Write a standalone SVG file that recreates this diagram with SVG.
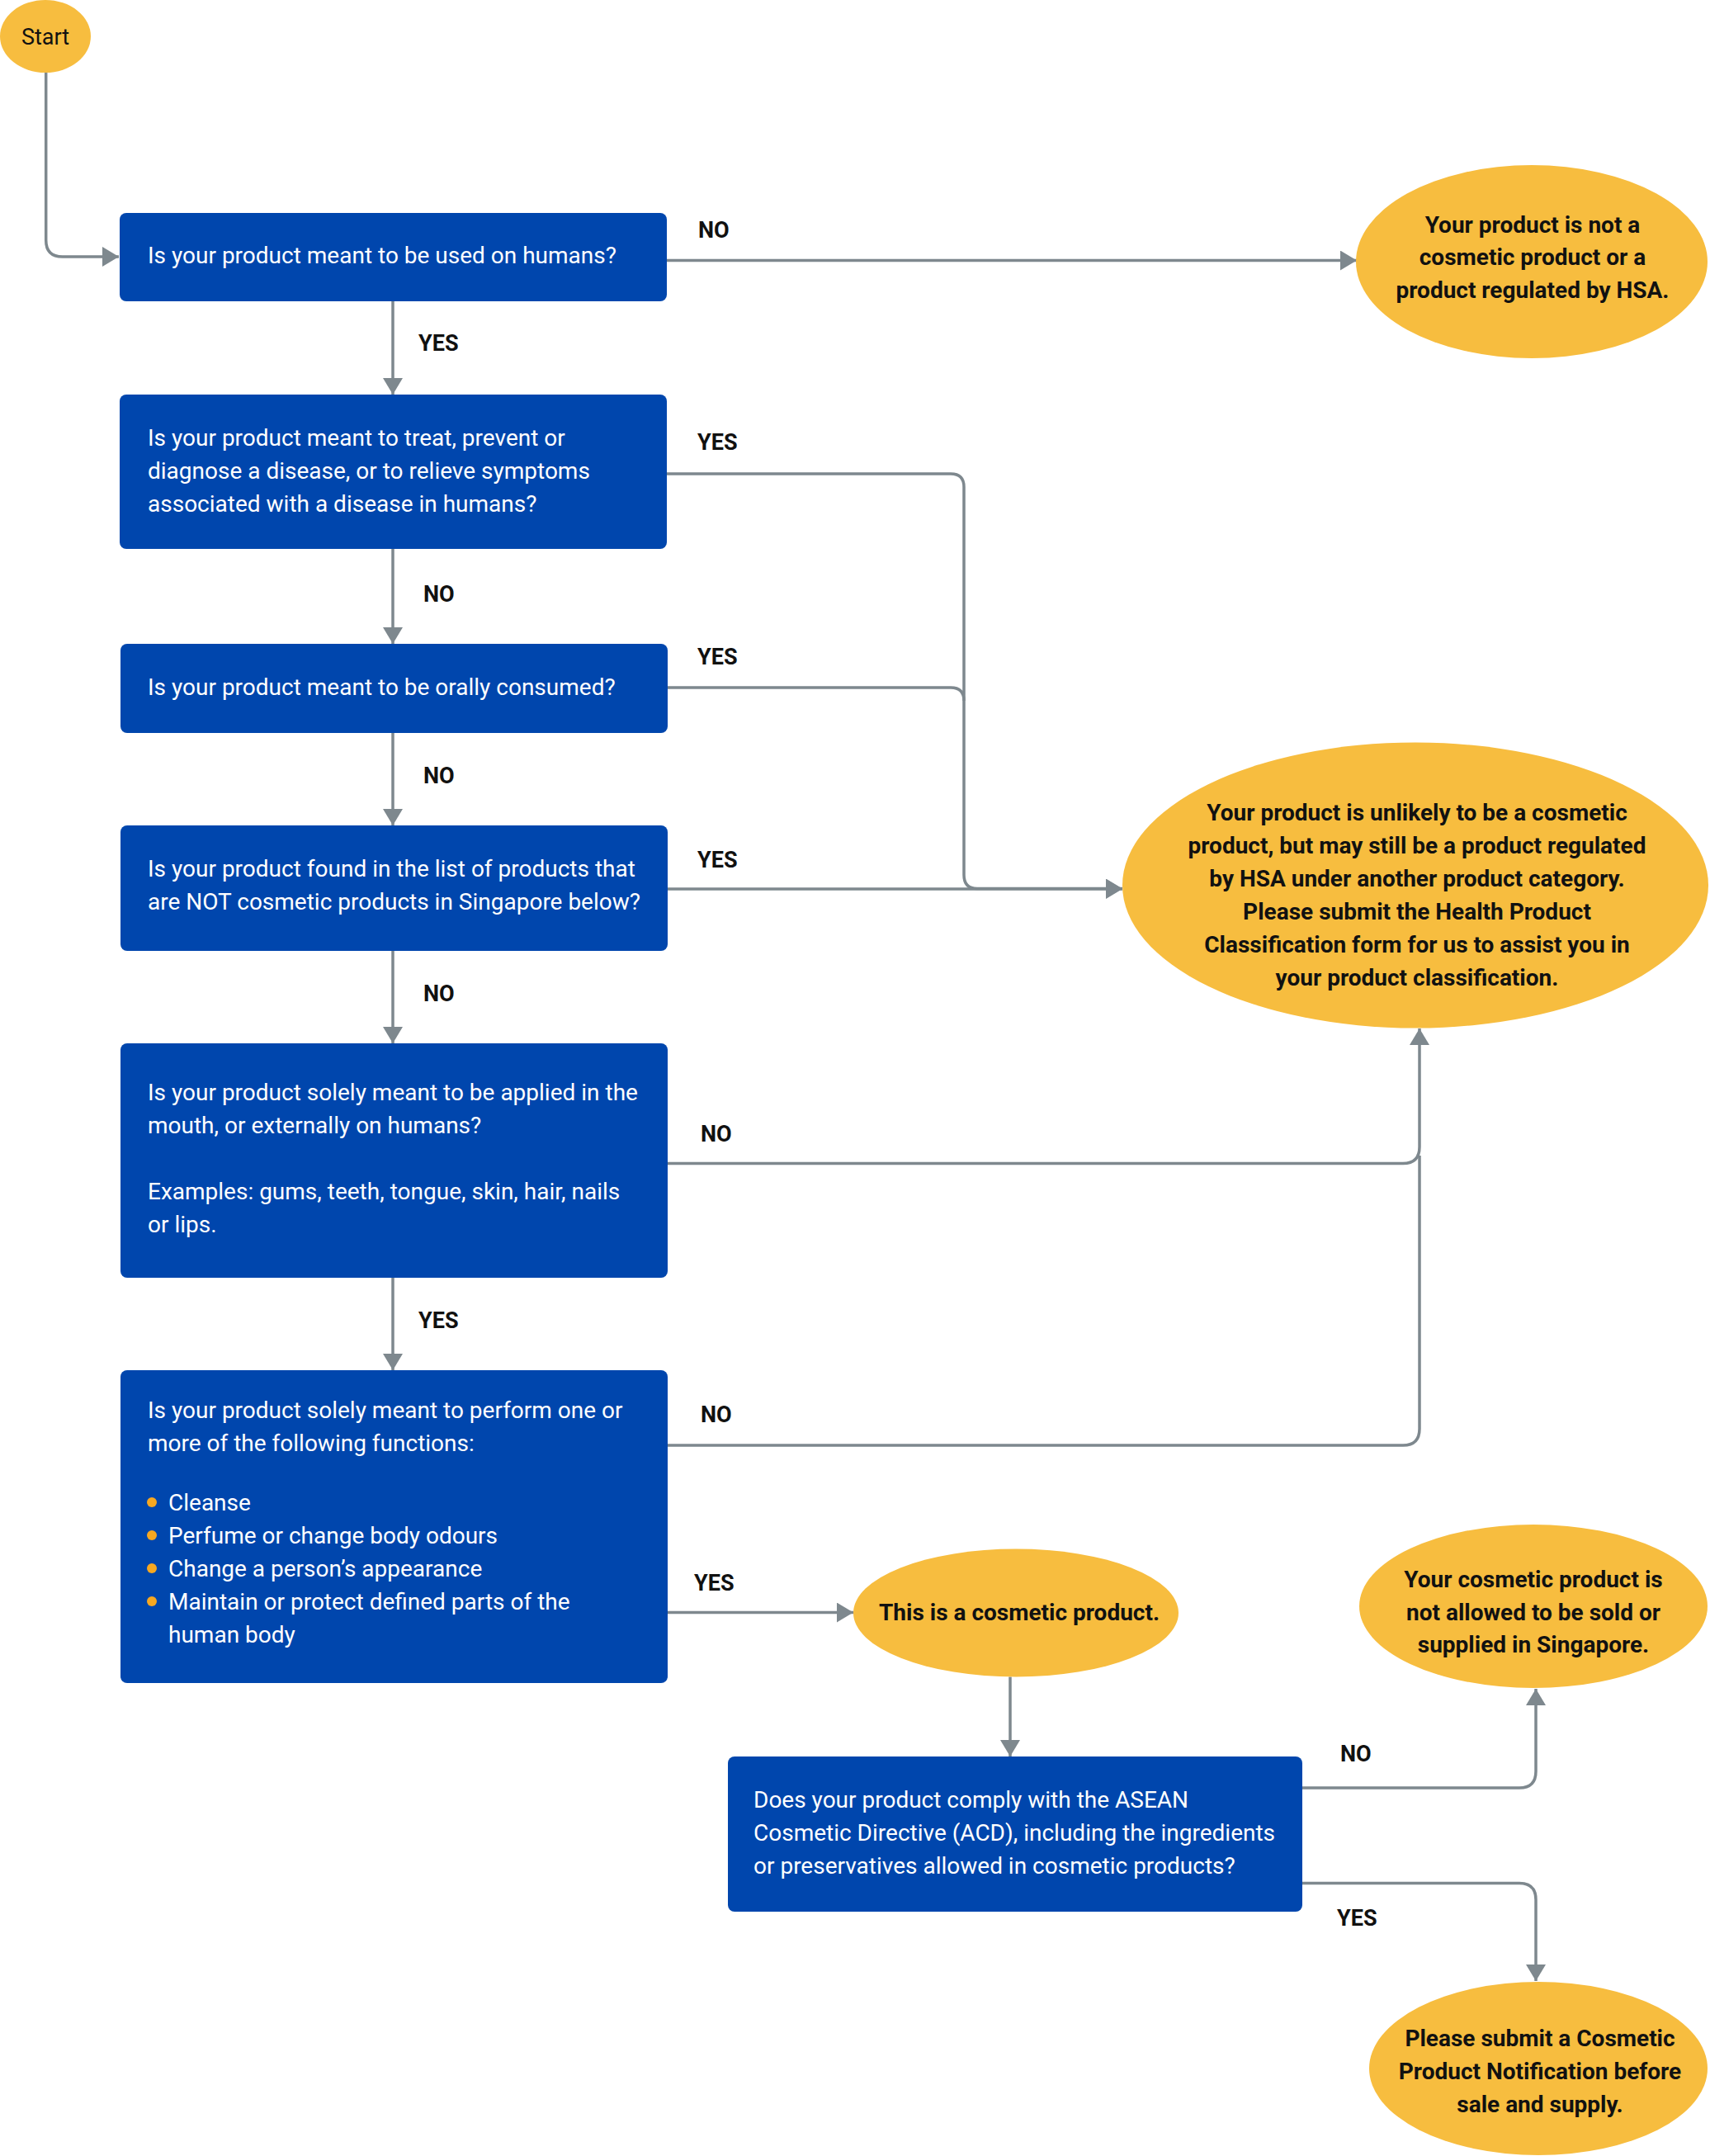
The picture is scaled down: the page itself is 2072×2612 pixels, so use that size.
<svg xmlns="http://www.w3.org/2000/svg" width="2072" height="2612" viewBox="0 0 2072 2612">
<defs>
<style>
.box{fill:#0046ad;}
.term{fill:#f7bd3f;}
.bt{font-family:Roboto,"Liberation Sans",sans-serif;font-size:28px;fill:#ffffff;}
.et{font-family:Roboto,"Liberation Sans",sans-serif;font-size:28px;font-weight:bold;fill:#111111;text-anchor:middle;}
.st{font-family:Roboto,"Liberation Sans",sans-serif;font-size:27px;fill:#111111;text-anchor:middle;}
.lb{font-family:Roboto,"Liberation Sans",sans-serif;font-size:27px;font-weight:bold;fill:#111111;}
.c{fill:none;stroke:#7e888e;stroke-width:3.5;}
.bul{fill:#f6a821;}
</style>
<marker id="ah" viewBox="0 0 20 24" refX="20" refY="12" markerWidth="20" markerHeight="24" markerUnits="userSpaceOnUse" orient="auto">
<path d="M0,0 L20,12 L0,24 Z" fill="#7e888e"/>
</marker>
</defs>
<rect width="2072" height="2612" fill="#ffffff"/>

<g id="connectors">
<path class="c" d="M55.7,87 V291 Q55.7,311 75.7,311 H144" marker-end="url(#ah)"/>
<path class="c" d="M808,315.5 H1644" marker-end="url(#ah)"/>
<path class="c" d="M476,365 V478" marker-end="url(#ah)"/>
<path class="c" d="M808,574 H1152 Q1168,574 1168,590 V1060 Q1168,1076.5 1184,1076.5 H1360" marker-end="url(#ah)"/>
<path class="c" d="M809,833 H1152 Q1168,833 1168,849"/>
<path class="c" d="M809,1077 H1360" marker-end="url(#ah)"/>
<path class="c" d="M476,665 V780" marker-end="url(#ah)"/>
<path class="c" d="M476,888 V1000" marker-end="url(#ah)"/>
<path class="c" d="M476,1152 V1264" marker-end="url(#ah)"/>
<path class="c" d="M476,1548 V1660" marker-end="url(#ah)"/>
<path class="c" d="M809,1409.5 H1700 Q1720,1409.5 1720,1389.5 V1246" marker-end="url(#ah)"/>
<path class="c" d="M809,1751 H1700 Q1720,1751 1720,1731 V1400"/>
<path class="c" d="M809,1953.5 H1034" marker-end="url(#ah)"/>
<path class="c" d="M1224,2031.5 V2128" marker-end="url(#ah)"/>
<path class="c" d="M1578,2166 H1841 Q1861,2166 1861,2146 V2046" marker-end="url(#ah)"/>
<path class="c" d="M1578,2281.5 H1841 Q1861,2281.5 1861,2301.5 V2400" marker-end="url(#ah)"/>
<text class="lb" x="846" y="288">NO</text>
<text class="lb" x="507" y="425">YES</text>
<text class="lb" x="845" y="544.5">YES</text>
<text class="lb" x="513" y="729">NO</text>
<text class="lb" x="845" y="805">YES</text>
<text class="lb" x="513" y="949">NO</text>
<text class="lb" x="845" y="1051">YES</text>
<text class="lb" x="513" y="1213">NO</text>
<text class="lb" x="849" y="1382.5">NO</text>
<text class="lb" x="507" y="1609">YES</text>
<text class="lb" x="849" y="1722.5">NO</text>
<text class="lb" x="841" y="1926.5">YES</text>
<text class="lb" x="1624" y="2134">NO</text>
<text class="lb" x="1620" y="2333">YES</text>
</g>

<g id="start">
<ellipse class="term" cx="55" cy="44" rx="55" ry="44"/>
<text class="st" x="55" y="54">Start</text>
</g>

<g id="q1">
<rect class="box" x="145" y="258" width="663" height="107" rx="8"/>
<text class="bt" x="179" y="319">Is your product meant to be used on humans?</text>
</g>

<g id="q2">
<rect class="box" x="145" y="478" width="663" height="187" rx="8"/>
<text class="bt" x="179" y="540">Is your product meant to treat, prevent or</text>
<text class="bt" x="179" y="580">diagnose a disease, or to relieve symptoms</text>
<text class="bt" x="179" y="620">associated with a disease in humans?</text>
</g>

<g id="q3">
<rect class="box" x="146" y="780" width="663" height="108" rx="8"/>
<text class="bt" x="179" y="842">Is your product meant to be orally consumed?</text>
</g>

<g id="q4">
<rect class="box" x="146" y="1000" width="663" height="152" rx="8"/>
<text class="bt" x="179" y="1062">Is your product found in the list of products that</text>
<text class="bt" x="179" y="1102">are NOT cosmetic products in Singapore below?</text>
</g>

<g id="q5">
<rect class="box" x="146" y="1264" width="663" height="284" rx="8"/>
<text class="bt" x="179" y="1333">Is your product solely meant to be applied in the</text>
<text class="bt" x="179" y="1373">mouth, or externally on humans?</text>
<text class="bt" x="179" y="1453">Examples: gums, teeth, tongue, skin, hair, nails</text>
<text class="bt" x="179" y="1493">or lips.</text>
</g>

<g id="q6">
<rect class="box" x="146" y="1660" width="663" height="379" rx="8"/>
<text class="bt" x="179" y="1718">Is your product solely meant to perform one or</text>
<text class="bt" x="179" y="1758">more of the following functions:</text>
<circle class="bul" cx="184" cy="1820" r="6"/>
<circle class="bul" cx="184" cy="1860" r="6"/>
<circle class="bul" cx="184" cy="1900" r="6"/>
<circle class="bul" cx="184" cy="1940" r="6"/>
<text class="bt" x="204" y="1830">Cleanse</text>
<text class="bt" x="204" y="1870">Perfume or change body odours</text>
<text class="bt" x="204" y="1910">Change a person’s appearance</text>
<text class="bt" x="204" y="1950">Maintain or protect defined parts of the</text>
<text class="bt" x="204" y="1990">human body</text>
</g>

<g id="q7">
<rect class="box" x="882" y="2128" width="696" height="188" rx="8"/>
<text class="bt" x="913" y="2190">Does your product comply with the ASEAN</text>
<text class="bt" x="913" y="2230">Cosmetic Directive (ACD), including the ingredients</text>
<text class="bt" x="913" y="2270">or preservatives allowed in cosmetic products?</text>
</g>

<g id="e1">
<ellipse class="term" cx="1856" cy="317" rx="213" ry="117"/>
<text class="et" x="1857" y="282">Your product is not a</text>
<text class="et" x="1857" y="321">cosmetic product or a</text>
<text class="et" x="1857" y="361">product regulated by HSA.</text>
</g>

<g id="e2">
<ellipse class="term" cx="1715" cy="1072.5" rx="355" ry="173"/>
<text class="et" x="1717" y="993.5">Your product is unlikely to be a cosmetic</text>
<text class="et" x="1717" y="1033.5">product, but may still be a product regulated</text>
<text class="et" x="1717" y="1073.5">by HSA under another product category.</text>
<text class="et" x="1717" y="1113.5">Please submit the Health Product</text>
<text class="et" x="1717" y="1153.5">Classification form for us to assist you in</text>
<text class="et" x="1717" y="1193.5">your product classification.</text>
</g>

<g id="e3">
<ellipse class="term" cx="1231" cy="1954" rx="197" ry="77.5"/>
<text class="et" x="1235" y="1963">This is a cosmetic product.</text>
</g>

<g id="e4">
<ellipse class="term" cx="1858" cy="1946" rx="211" ry="99"/>
<text class="et" x="1858" y="1923">Your cosmetic product is</text>
<text class="et" x="1858" y="1963">not allowed to be sold or</text>
<text class="et" x="1858" y="2002">supplied in Singapore.</text>
</g>

<g id="e5">
<ellipse class="term" cx="1864" cy="2506" rx="205" ry="105"/>
<text class="et" x="1866" y="2478.5">Please submit a Cosmetic</text>
<text class="et" x="1866" y="2519">Product Notification before</text>
<text class="et" x="1866" y="2559">sale and supply.</text>
</g>
</svg>
